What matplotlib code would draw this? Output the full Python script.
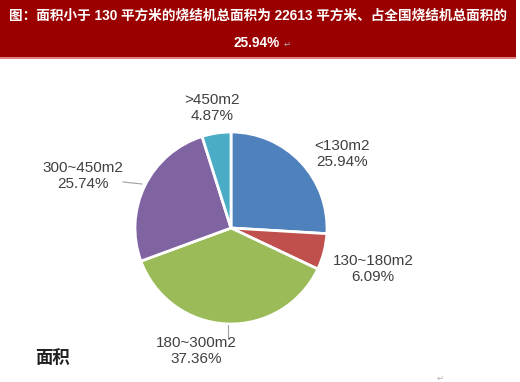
import matplotlib
matplotlib.use("Agg")
import matplotlib.pyplot as plt
from matplotlib.patches import Rectangle

plt.rcParams['font.family'] = ['Liberation Sans', 'Noto Sans CJK SC', 'DejaVu Sans']

categories = ["<130m2", "130~180m2", "180~300m2", "300~450m2", ">450m2"]
values = [25.94, 6.09, 37.36, 25.74, 4.87]
colors = ["#4F81BD", "#C0504D", "#9BBB59", "#8064A2", "#4BACC6"]
label_pos = [(342, 154), (373, 269), (196, 351), (83, 176), (212, 108)]

title1 = "图：面积小于 130 平方米的烧结机总面积为 22613 平方米、占全国烧结机总面积的"
title2 = "25.94%"
axis_label = "面积"

W, H = 520, 382
fig = plt.figure(figsize=(W / 100, H / 100), dpi=100)
ax = fig.add_axes([0, 0, 1, 1])
ax.set_xlim(0, W)
ax.set_ylim(0, H)
ax.set_aspect('equal')
ax.axis('off')

def Y(y):
    return H - y

# title band
ax.add_patch(Rectangle((0, Y(57)), 516, 57, facecolor="#9B0000", edgecolor="none"))
ax.add_patch(Rectangle((0, Y(59)), 516, 2, facecolor="#E08080", edgecolor="none"))
tfam = ['Liberation Sans', 'Noto Sans CJK SC', 'DejaVu Sans']
cjk = ['Noto Sans CJK SC', 'DejaVu Sans']
ax.text(258, Y(16), title1, ha='center', va='center', color='white',
        fontsize=9.8, fontweight='bold', family=tfam)
ax.text(257, Y(43), title2, ha='center', va='center', color='white',
        fontsize=9.8, fontweight='bold', family=tfam)
ax.text(287, Y(44), "↵", ha='center', va='center', color='#B0B0B0',
        fontsize=6, family=['DejaVu Sans'])

# pie
cx, cy, r = 231, Y(228), 96
ax.pie(values, colors=colors, startangle=90, counterclock=False,
       center=(cx, cy), radius=r, frame=True,
       wedgeprops=dict(edgecolor='white', linewidth=2))
ax.set_xlim(0, W)
ax.set_ylim(0, H)
ax.axis('off')

# leader lines
ax.plot([123, 142], [Y(182), Y(184)], color='#A0A0A0', lw=0.8)
ax.plot([228, 228], [Y(325), Y(338)], color='#A0A0A0', lw=0.8)

for cat, v, (x, y) in zip(categories, values, label_pos):
    ax.text(x, Y(y), f"{cat}\n{v:.2f}%", ha='center', va='center',
            fontsize=11, color='#404040', linespacing=1.1)

ax.text(53, Y(358), axis_label, ha='center', va='center', fontsize=12.5,
        fontweight='bold', color='#202020', family=cjk)
ax.text(440, Y(378), "↵", ha='center', va='center', color='#B0B0B0',
        fontsize=6, family=['DejaVu Sans'])

fig.savefig("out.png", dpi=100)
